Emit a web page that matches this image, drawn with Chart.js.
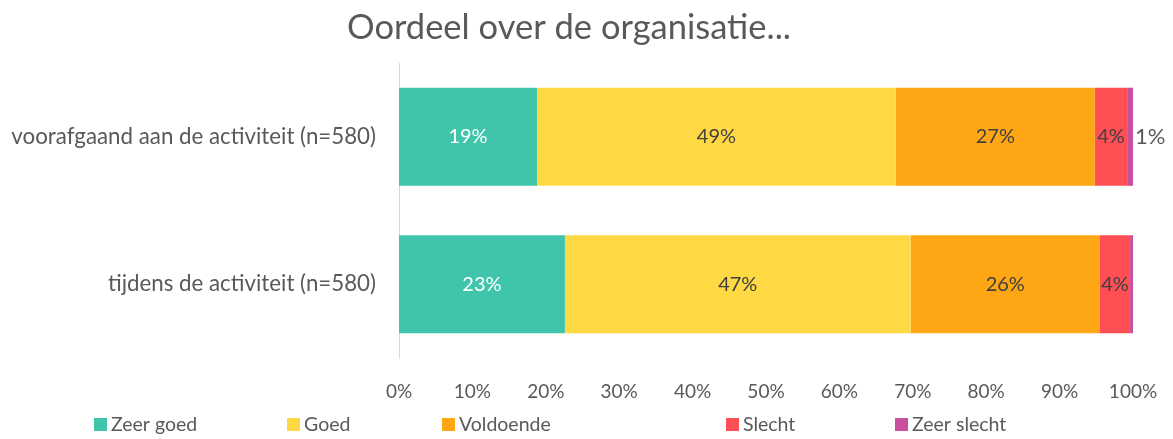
<!DOCTYPE html>
<html>
<head>
<meta charset="utf-8">
<script src="https://cdn.jsdelivr.net/npm/chart.js@4"></script>
<style>
  html, body { margin: 0; padding: 0; background: #fff; }
  #wrap { width: 1173px; height: 439px; }
</style>
</head>
<body>
<div id="wrap"><canvas id="myChart" width="1173" height="439"></canvas></div>
<script>
"use strict";

// Chart data
const title = "Oordeel over de organisatie...";
const categories = ["voorafgaand aan de activiteit (n=580)", "tijdens de activiteit (n=580)"];
const seriesNames = ["Zeer goed", "Goed", "Voldoende", "Slecht", "Zeer slecht"];
const zeerGoed = [18.8, 22.6];
const goed = [48.9, 47.1];
const voldoende = [27.1, 25.8];
const slecht = [4.4, 4.1];
const zeerSlecht = [0.8, 0.4];
const tickLabels = ["0%", "10%", "20%", "30%", "40%", "50%", "60%", "70%", "80%", "90%", "100%"];

const colors = ["#40C4AA", "#FFD944", "#FFA615", "#FF4F55", "#C8509E"];
const labelColors = ["#ffffff", "#404040", "#404040", "#404040", "#404040"];
const textColor = "#595959";
const fontFamily = "Lato, 'Open Sans', sans-serif";

const seriesValues = [zeerGoed, goed, voldoende, slecht, zeerSlecht];

// Draws the title above the plot
const titlePlugin = {
	id: "titleText",
	afterDraw(chart) {
		const ctx = chart.ctx;
		ctx.save();
		ctx.fillStyle = textColor;
		ctx.font = "34.5px " + fontFamily;
		ctx.textAlign = "center";
		ctx.textBaseline = "middle";
		ctx.fillText(title, 569, 28);
		ctx.restore();
	},
};

// Draws the percentages in (or next to) the bars
const labelPlugin = {
	id: "barLabels",
	afterDatasetsDraw(chart) {
		const ctx = chart.ctx;
		ctx.save();
		ctx.textBaseline = "middle";
		chart.data.datasets.forEach(function (ds, i) {
			const meta = chart.getDatasetMeta(i);
			meta.data.forEach(function (bar, j) {
				const v = Math.round(ds.data[j]);
				if (v === 0) return;
				const w = Math.abs(bar.x - bar.base);
				if (w < 15) {
					ctx.font = "22px " + fontFamily;
					ctx.fillStyle = textColor;
					ctx.textAlign = "left";
					ctx.fillText(v + "%", bar.x + 2, bar.y);
				} else {
					ctx.font = "20px " + fontFamily;
					ctx.fillStyle = labelColors[i];
					ctx.textAlign = "center";
					ctx.fillText(v + "%", (bar.x + bar.base) / 2, bar.y);
				}
			});
		});
		ctx.restore();
	},
};

// Legend along the bottom, spaced like the original
const legendX = [94, 287, 442, 726, 895];
const legendPlugin = {
	id: "bottomLegend",
	afterDraw(chart) {
		const ctx = chart.ctx;
		ctx.save();
		ctx.font = "19.5px " + fontFamily;
		ctx.textBaseline = "middle";
		ctx.textAlign = "left";
		chart.data.datasets.forEach(function (ds, i) {
			const x = legendX[i];
			ctx.fillStyle = ds.backgroundColor;
			ctx.fillRect(x, 418, 13, 13);
			ctx.fillStyle = textColor;
			ctx.fillText(ds.label, x + 17, 425);
		});
		ctx.restore();
	},
};

const ctx = document.getElementById("myChart");

new Chart(ctx, {
	type: "bar",
	data: {
		labels: categories,
		datasets: seriesNames.map(function (name, i) {
			return {
				label: name,
				data: seriesValues[i],
				backgroundColor: colors[i],
				borderWidth: 0,
				categoryPercentage: 1,
				barPercentage: 0.665,
			};
		}),
	},
	options: {
		indexAxis: "y",
		responsive: false,
		animation: false,
		layout: {
			padding: { top: 63, right: 40, bottom: 31, left: 0 },
		},
		plugins: {
			legend: { display: false },
			title: { display: false },
			tooltip: { enabled: false },
		},
		scales: {
			x: {
				stacked: true,
				min: 0,
				max: 100,
				grid: { display: false },
				border: { display: false },
				ticks: {
					stepSize: 10,
					color: textColor,
					font: { size: 19, family: fontFamily },
					padding: 14,
					callback: function (value, index) {
						return tickLabels[index];
					},
				},
				afterFit: function (scale) {
					scale.height = 50;
				},
			},
			y: {
				stacked: true,
				grid: { display: false },
				border: { display: true, color: "#d9d9d9", width: 1 },
				ticks: {
					color: textColor,
					font: { size: 22.3, family: fontFamily },
					padding: 15,
				},
				afterFit: function (scale) {
					scale.width = 399;
				},
			},
		},
	},
	plugins: [titlePlugin, labelPlugin, legendPlugin],
});
</script>
</body>
</html>
